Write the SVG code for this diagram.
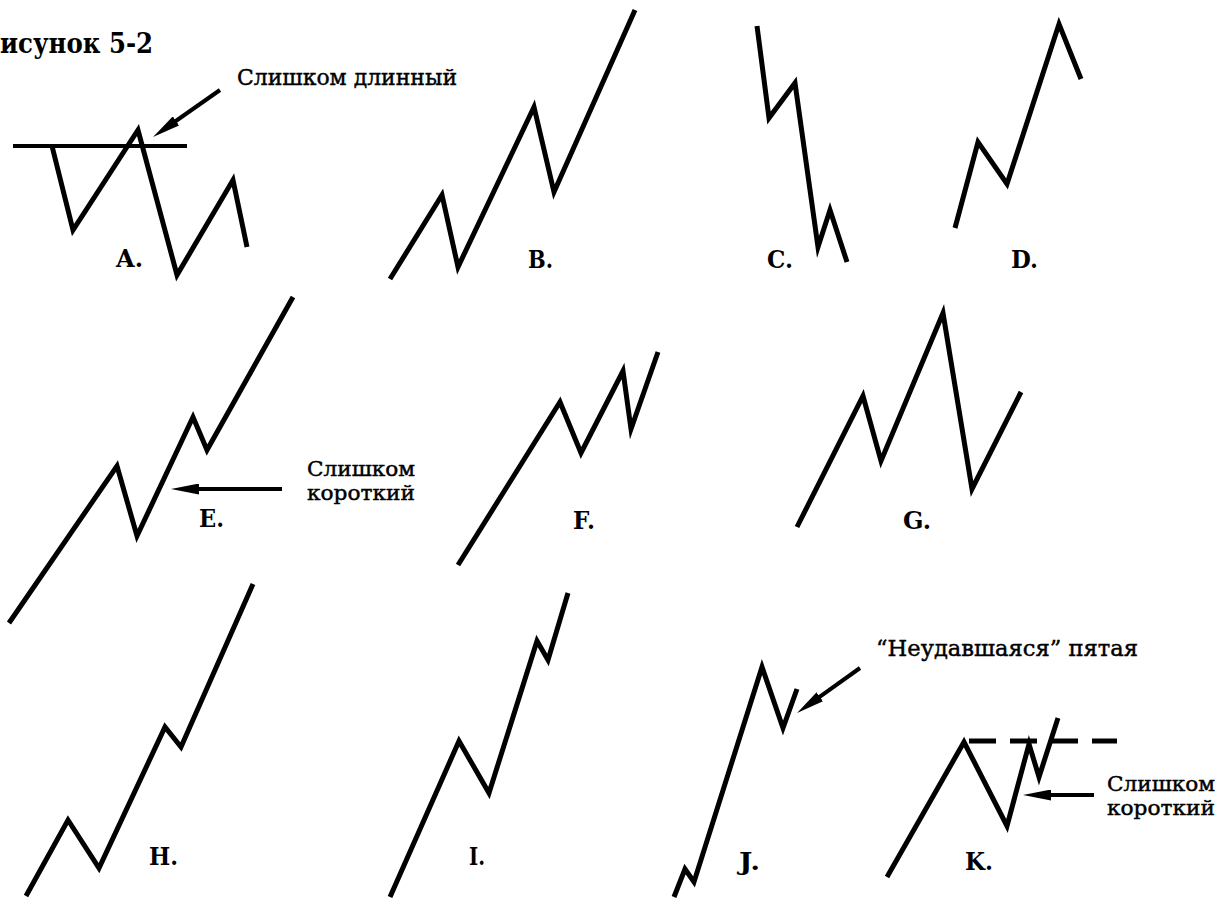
<svg xmlns="http://www.w3.org/2000/svg" width="1225" height="898" viewBox="0 0 1225 898">
<style>
.wave{fill:none;stroke:#000;stroke-width:5;stroke-linejoin:miter;stroke-miterlimit:6;stroke-linecap:butt}
.ref{fill:none;stroke:#000;stroke-width:4}
.dash{fill:none;stroke:#000;stroke-width:5;stroke-dasharray:27 14}
.arrow{fill:none;stroke:#000;stroke-width:4;marker-end:url(#ah)}
.lbl{font-family:"DejaVu Serif","Liberation Serif",serif;font-weight:bold;font-size:25px;fill:#000}
.note{font-family:"DejaVu Serif","Liberation Serif",serif;font-size:23px;fill:#000;stroke:#000;stroke-width:0.45}
.note2{font-family:"DejaVu Serif","Liberation Serif",serif;font-size:20.5px;fill:#000;stroke:#000;stroke-width:0.45}
.title{font-family:"DejaVu Serif","Liberation Serif",serif;font-weight:bold;font-size:28px;fill:#000}
</style>
<defs>
<marker id="ah" viewBox="0 0 28 11" refX="8" refY="5.5" markerWidth="28" markerHeight="11" markerUnits="userSpaceOnUse" orient="auto">
<path d="M0,0 L28,5.5 L0,11 z" fill="#000"/>
</marker>
</defs>
<rect width="1225" height="898" fill="#fff"/>
<text class="title" x="0" y="53" textLength="153" lengthAdjust="spacingAndGlyphs">исунок 5-2</text>

<g id="fig-A">
<line class="ref" x1="13" y1="146" x2="187" y2="146"/>
<polyline class="wave" points="52,146 73,230 138,130 177,275 233,180 247,247"/>
<text class="lbl" x="116" y="267" textLength="27" lengthAdjust="spacingAndGlyphs">A.</text>
<text class="note" x="237" y="85" textLength="220" lengthAdjust="spacingAndGlyphs">Слишком длинный</text>
</g>
<g id="fig-B">
<polyline class="wave" points="390,279 442,195 458,267 534,107 554,192 635,10"/>
<text class="lbl" x="528" y="268" textLength="25" lengthAdjust="spacingAndGlyphs">B.</text>
</g>
<g id="fig-C">
<polyline class="wave" points="757,26 769,118 795,83 818,247 830,210 847,262"/>
<text class="lbl" x="767" y="268" textLength="26" lengthAdjust="spacingAndGlyphs">C.</text>
</g>
<g id="fig-D">
<polyline class="wave" points="955,228 978,142 1007,184 1059,24 1081,79"/>
<text class="lbl" x="1011" y="268" textLength="27" lengthAdjust="spacingAndGlyphs">D.</text>
</g>
<g id="fig-E">
<polyline class="wave" points="9,623 117,466 137,536 193,417 207,450 293,297"/>
<text class="lbl" x="199" y="527" textLength="25" lengthAdjust="spacingAndGlyphs">E.</text>
<text class="note2" x="307" y="476" textLength="108" lengthAdjust="spacingAndGlyphs">Слишком</text>
<text class="note2" x="307" y="500" textLength="108" lengthAdjust="spacingAndGlyphs">короткий</text>
</g>
<g id="fig-F">
<polyline class="wave" points="458,565 560,402 581,453 623,371 631,429 658,352"/>
<text class="lbl" x="573" y="529" textLength="22" lengthAdjust="spacingAndGlyphs">F.</text>
</g>
<g id="fig-G">
<polyline class="wave" points="797,527 863,396 881,461 943,313 972,489 1021,392"/>
<text class="lbl" x="903" y="529" textLength="28" lengthAdjust="spacingAndGlyphs">G.</text>
</g>
<g id="fig-H">
<polyline class="wave" points="26,896 68,820 99,868 165,727 181,747 253,584"/>
<text class="lbl" x="149" y="865" textLength="29" lengthAdjust="spacingAndGlyphs">H.</text>
</g>
<g id="fig-I">
<polyline class="wave" points="390,897 459,741 489,793 537,641 548,660 568,593"/>
<text class="lbl" x="469" y="865" textLength="16" lengthAdjust="spacingAndGlyphs">I.</text>
</g>
<g id="fig-J">
<polyline class="wave" points="674,897 685,869 694,882 762,667 783,728 797,689"/>
<text class="lbl" x="739" y="870" textLength="21" lengthAdjust="spacingAndGlyphs">J.</text>
<text class="note" x="876" y="656" textLength="262" lengthAdjust="spacingAndGlyphs">“Неудавшаяся” пятая</text>
</g>
<g id="fig-K">
<line class="dash" x1="969" y1="741" x2="1117" y2="741"/>
<polyline class="wave" points="887,877 964,742 1007,826 1029,744 1039,777 1058,718"/>
<text class="lbl" x="965" y="870" textLength="28" lengthAdjust="spacingAndGlyphs">K.</text>
<text class="note2" x="1107" y="791" textLength="108" lengthAdjust="spacingAndGlyphs">Слишком</text>
<text class="note2" x="1107" y="815" textLength="108" lengthAdjust="spacingAndGlyphs">короткий</text>
</g>

<g id="connectors">
<line class="arrow" x1="220" y1="90" x2="169.4" y2="125.5"/>
<line class="arrow" x1="282" y1="489" x2="191" y2="489"/>
<line class="arrow" x1="860" y1="668" x2="813.3" y2="701.4"/>
<line class="arrow" x1="1094" y1="795" x2="1043" y2="795"/>
</g>
</svg>
